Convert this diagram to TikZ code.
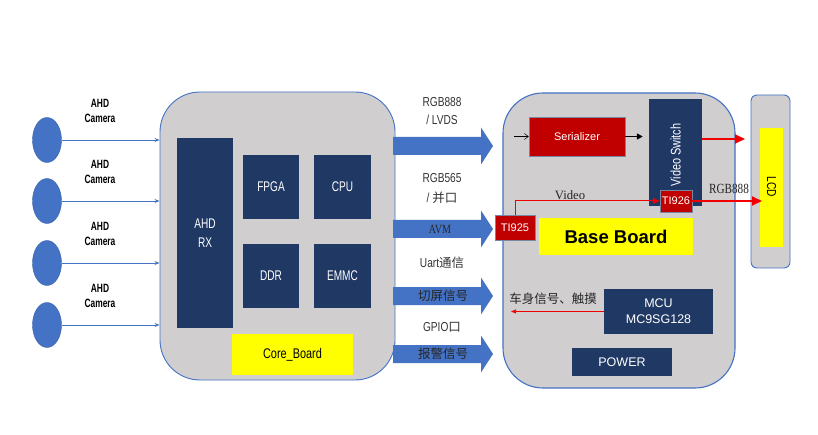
\documentclass[tikz,border=0pt]{standalone}
\usepackage{fontspec}
\setmainfont{Liberation Sans}
\newfontfamily\nsans[FakeStretch=0.78]{Liberation Sans}
\newfontfamily\nsansx[FakeStretch=0.72]{Liberation Sans}
\newfontfamily\nsansb[FakeStretch=0.7]{Liberation Sans}
\newfontfamily\nserif[FakeStretch=0.8]{Liberation Serif}
\newfontfamily\serifr{Liberation Serif}
\newfontfamily\cjk{Noto Sans CJK SC}
\usetikzlibrary{arrows.meta,shapes.geometric}
\definecolor{navy}{HTML}{203864}
\definecolor{cblue}{HTML}{4472C4}
\definecolor{bgray}{HTML}{D0CECE}
\definecolor{dred}{HTML}{C00000}
\definecolor{lred}{HTML}{F00000}
\definecolor{ylw}{HTML}{FFFF00}
\definecolor{txtg}{HTML}{333333}
\tikzset{
  board/.style={draw=cblue, line width=0.9pt, fill=bgray, rounded corners=40pt, inner sep=0},
  navybox/.style={fill=navy, text=white, inner sep=0, align=center, font=\nsansx\fontsize{14}{19}\selectfont},
  redbox/.style={fill=dred, draw=navy!60, line width=0.4pt, text=white, inner sep=0, font=\fontsize{11}{13}\selectfont},
  ylwbox/.style={fill=ylw, inner sep=0},
  cam/.style={ellipse, fill=cblue, draw=cblue!85!black, line width=0.4pt, minimum width=29pt, minimum height=45pt, inner sep=0},
  camlbl/.style={font=\nsansb\bfseries\fontsize{12}{14.5}\selectfont, align=center},
  camarrow/.style={draw=cblue, line width=0.8pt, -{Stealth[length=5pt,width=4pt]}},
  toplbl/.style={font=\nsans\fontsize{13}{18}\selectfont, text=txtg, align=center},
  inlbl/.style={font=\cjk\fontsize{12.5}{15}\selectfont, text=black!85},
  redthin/.style={draw=lred, line width=1pt, -{Triangle[length=7pt,width=6pt]}},
  redthick/.style={draw=lred, line width=1.8pt, -{Triangle[length=10pt,width=9pt]}},
  blkthin/.style={draw=black, line width=0.5pt, -{Straight Barb[length=4pt,width=6pt]}},
  blkthick/.style={draw=black, line width=1.6pt, -{Triangle[length=6pt,width=6pt]}},
}
\newcommand{\blockarrow}[1]{%
  \fill[cblue] (393,{#1-9}) -- (481,{#1-9}) -- (481,{#1-18.5}) -- (493,#1) -- (481,{#1+18.5}) -- (481,{#1+9}) -- (393,{#1+9}) -- cycle;}
\begin{document}
\begin{tikzpicture}[x=1pt,y=-1pt]
\useasboundingbox (0,0) rectangle (818,435);
\fill[white] (0,0) rectangle (818,435);

% ---------------- Core board ----------------
\node[board, minimum width=235pt, minimum height=288pt] (core) at (277.5,236) {};
\node[navybox, minimum width=56pt, minimum height=190pt] (ahdrx) at (205,233) {AHD\\RX};
\node[navybox, minimum width=56pt, minimum height=64pt] (fpga) at (271,187) {FPGA};
\node[navybox, minimum width=57pt, minimum height=64pt] (cpu) at (342.5,187) {CPU};
\node[navybox, minimum width=56pt, minimum height=64pt] (ddr) at (271,276) {DDR};
\node[navybox, minimum width=57pt, minimum height=64pt] (emmc) at (342.5,276) {EMMC};
\node[ylwbox, minimum width=121pt, minimum height=41pt, font=\nsans\fontsize{14}{16}\selectfont] (coreb) at (292.5,354.5) {Core\_Board};

% ---------------- Cameras ----------------
\foreach \i/\y in {1/140,2/201,3/263,4/325}{
  \node[cam] (c\i) at (47,\y) {};
  \node[camlbl] (cl\i) at (100,{\y-29}) {AHD\\Camera};
  \draw[camarrow] (c\i.east) -- (core.west |- c\i.east);
}

% ---------------- Block arrows ----------------
\blockarrow{146}
\blockarrow{229}
\blockarrow{296}
\blockarrow{354}
\node[toplbl] (l1) at (442,111) {RGB888\\/ LVDS};
\node[toplbl] (l2a) at (442,178) {RGB565};
\node[toplbl] (l2b) at (442,198) {/ {\cjk\fontsize{12.5}{15}\selectfont 并口}};
\node[toplbl] (l3) at (442,263) {Uart{\cjk\fontsize{12.5}{15}\selectfont 通信}};
\node[toplbl] (l4) at (442,327) {GPIO{\cjk\fontsize{12.5}{15}\selectfont 口}};
\node[font=\nserif\fontsize{12.5}{15}\selectfont, text=black!85] (avm) at (440,229) {AVM};
\node[inlbl] (qp) at (443,296) {切屏信号};
\node[inlbl] (bj) at (443,354) {报警信号};

% ---------------- Base board ----------------
\node[board, line width=1.1pt, minimum width=232pt, minimum height=295pt] (base) at (619,240.5) {};
\node[redbox, minimum width=96pt, minimum height=39pt] (ser) at (577,136.5) {Serializer};
\node[navybox, minimum width=53pt, minimum height=107pt] (vs) at (675.5,152.5) {};
\node[rotate=90, text=white, font=\nsans\fontsize{14}{17}\selectfont] (vst) at (675.5,155) {Video Switch};
\node[redbox, minimum width=32pt, minimum height=22pt] (ti926) at (676,201) {TI926};
\node[redbox, minimum width=40pt, minimum height=25pt] (ti925) at (515,227.5) {TI925};
\node[ylwbox, minimum width=154pt, minimum height=37pt, font=\bfseries\fontsize{18.5}{20}\selectfont] (bb) at (616,236.5) {Base Board};
\node[navybox, font=\fontsize{12.5}{16}\selectfont, minimum width=109pt, minimum height=45pt] (mcu) at (658.5,311.5) {MCU\\MC9SG128};
\node[navybox, font=\fontsize{12.5}{16}\selectfont, minimum width=100pt, minimum height=28pt] (pwr) at (622,362) {POWER};
\node[font=\cjk\fontsize{12.5}{15}\selectfont, text=black!85] (cs) at (553,299) {车身信号、触摸};
\node[font=\serifr\fontsize{12.7}{15}\selectfont, text=black!85] (vid) at (570,195) {Video};

\coordinate (serin) at (514,136.5);
\coordinate (mcuend) at (511,311.5);
\draw[blkthin] (serin) -- (ser.west);
\draw[blkthick, shorten >=6pt] (ser.east) -- (vs.west |- ser.east);
\draw[redthin] (ti925.north) |- (ti926.west);
\draw[redthin, line width=0.7pt, -{Triangle[length=5pt,width=4pt]}] (mcu.west) -- (mcuend);

% ---------------- LCD ----------------
\node[draw=cblue, line width=0.9pt, fill=bgray, rounded corners=6pt, minimum width=39pt, minimum height=173pt, inner sep=0] (lcdo) at (770.5,181.5) {};
\node[ylwbox, minimum width=23pt, minimum height=119pt] (lcd) at (771.5,187.5) {};
\node[rotate=-90, font=\nsans\fontsize{13}{15}\selectfont] (lcdt) at (771.5,187) {LCD};

\coordinate (lcdin) at (745,139);
\coordinate (lcdrgb) at (762,201);
\draw[redthick] (vs.east |- lcdin) -- (lcdin);
\draw[redthick] (ti926.east) -- (lcdrgb);
\node[font=\nserif\fontsize{14}{16}\selectfont, text=black!85] (rgbl) at (729,189) {RGB888};
\end{tikzpicture}
\end{document}
